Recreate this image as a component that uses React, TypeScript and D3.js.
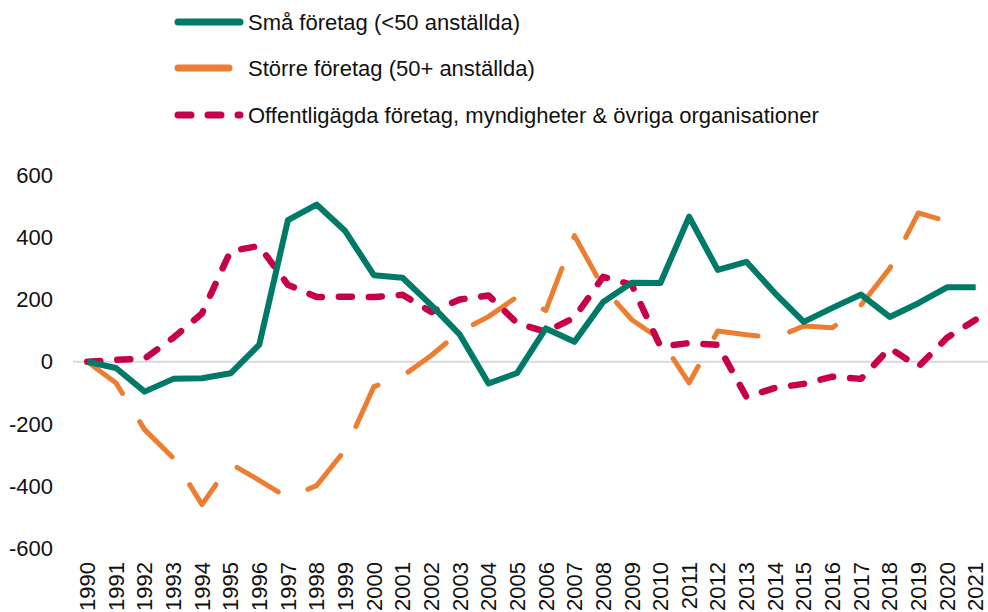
import React, { useRef, useEffect } from "react";
import { select, scaleBand, scaleLinear, line } from "d3";

const years = [
  1990, 1991, 1992, 1993, 1994, 1995, 1996, 1997, 1998, 1999, 2000, 2001, 2002, 2003, 2004, 2005,
  2006, 2007, 2008, 2009, 2010, 2011, 2012, 2013, 2014, 2015, 2016, 2017, 2018, 2019, 2020, 2021,
];

// Små företag (<50 anställda)
const smallFirms = [
  0, -20, -96, -55, -53, -37, 55, 455, 505, 420, 278, 270, 182, 87, -70, -36,
  107, 64, 192, 254, 253, 466, 295, 321, 220, 128, 173, 216, 144, 188, 239, 239,
];

// Större företag (50+ anställda), no value for 2021
const largeFirms = [
  0, -68, -218, -309, -459, -327, -381, -437, -398, -283, -80, -46, 20, 97, 145, 209,
  165, 405, 238, 135, 72, -68, 99, 87, 76, 115, 109, 182, 300, 478, 452, null,
];

// Offentligägda företag, myndigheter & övriga organisationer
const publicOrgs = [
  0, 6, 10, 77, 155, 356, 372, 247, 208, 209, 208, 215, 160, 200, 213, 124,
  96, 142, 273, 247, 49, 60, 54, -113, -84, -71, -48, -55, 44, -16, 77, 135,
];

const yTicks = [-600, -400, -200, 0, 200, 400, 600];

const seriesNames = [
  "Små företag (<50 anställda)",
  "Större företag (50+ anställda)",
  "Offentligägda företag, myndigheter & övriga organisationer",
];

const GREEN = "#007a68";
const ORANGE = "#ed7d31";
const CRIMSON = "#c8004a";
const FONT = "'Liberation Sans', Arial, sans-serif";

function LineChart() {
  const svgRef = useRef(null);

  useEffect(() => {
    const svg = select(svgRef.current);
    svg.selectAll("*").remove();

    const x = scaleBand().domain(years.map(String)).range([73, 990]);
    const cx = (i) => x(String(years[i])) + x.bandwidth() / 2;
    const y = scaleLinear().domain([-600, 600]).range([548.5, 175]);

    // zero line
    svg
      .append("line")
      .attr("x1", 73)
      .attr("x2", 988)
      .attr("y1", y(0))
      .attr("y2", y(0))
      .attr("stroke", "#d9d9d9")
      .attr("stroke-width", 2);

    // y axis labels
    svg
      .selectAll(".ytick")
      .data(yTicks)
      .join("text")
      .attr("class", "ytick")
      .attr("x", 53)
      .attr("y", (d) => y(d))
      .attr("dy", "0.35em")
      .attr("text-anchor", "end")
      .attr("font-size", 22)
      .attr("font-family", FONT)
      .attr("fill", "#111")
      .text((d) => d);

    // x axis labels, rotated
    svg
      .selectAll(".xtick")
      .data(years)
      .join("text")
      .attr("class", "xtick")
      .attr("transform", (d, i) => `translate(${cx(i)},562) rotate(-90)`)
      .attr("dy", "0.35em")
      .attr("text-anchor", "end")
      .attr("font-size", 22)
      .attr("font-family", FONT)
      .attr("fill", "#111")
      .text((d) => d);

    const makeLine = line()
      .defined((d) => d != null)
      .x((d, i) => cx(i))
      .y((d) => y(d));

    const series = [
      { values: largeFirms, color: ORANGE, width: 5, dash: "48 33" },
      { values: publicOrgs, color: CRIMSON, width: 6.5, dash: "13 17" },
      { values: smallFirms, color: GREEN, width: 6, dash: null },
    ];

    series.forEach((s) => {
      svg
        .append("path")
        .datum(s.values)
        .attr("d", makeLine)
        .attr("fill", "none")
        .attr("stroke", s.color)
        .attr("stroke-width", s.width)
        .attr("stroke-linejoin", "round")
        .attr("stroke-linecap", s.dash ? "round" : "butt")
        .attr("stroke-dasharray", s.dash);
    });

    // legend
    const legend = [
      { name: seriesNames[0], color: GREEN, width: 7, dash: null, x2: 240, y: 22 },
      { name: seriesNames[1], color: ORANGE, width: 7, dash: null, x2: 229, y: 68 },
      { name: seriesNames[2], color: CRIMSON, width: 7, dash: "13 17", x2: 240, y: 115 },
    ];

    legend.forEach((l) => {
      svg
        .append("line")
        .attr("x1", 178)
        .attr("x2", l.x2)
        .attr("y1", l.y)
        .attr("y2", l.y)
        .attr("stroke", l.color)
        .attr("stroke-width", l.width)
        .attr("stroke-linecap", "round")
        .attr("stroke-dasharray", l.dash);
      svg
        .append("text")
        .attr("x", 248)
        .attr("y", l.y)
        .attr("dy", "0.35em")
        .attr("font-size", 22)
        .attr("font-family", FONT)
        .attr("fill", "#111")
        .text(l.name);
    });
  }, []);

  return (
    <svg
      ref={svgRef}
      width={988}
      height={612}
      style={{ position: "absolute", left: 0, top: 0, background: "#fff" }}
    />
  );
}

export default function App() {
  return <LineChart />;
}
